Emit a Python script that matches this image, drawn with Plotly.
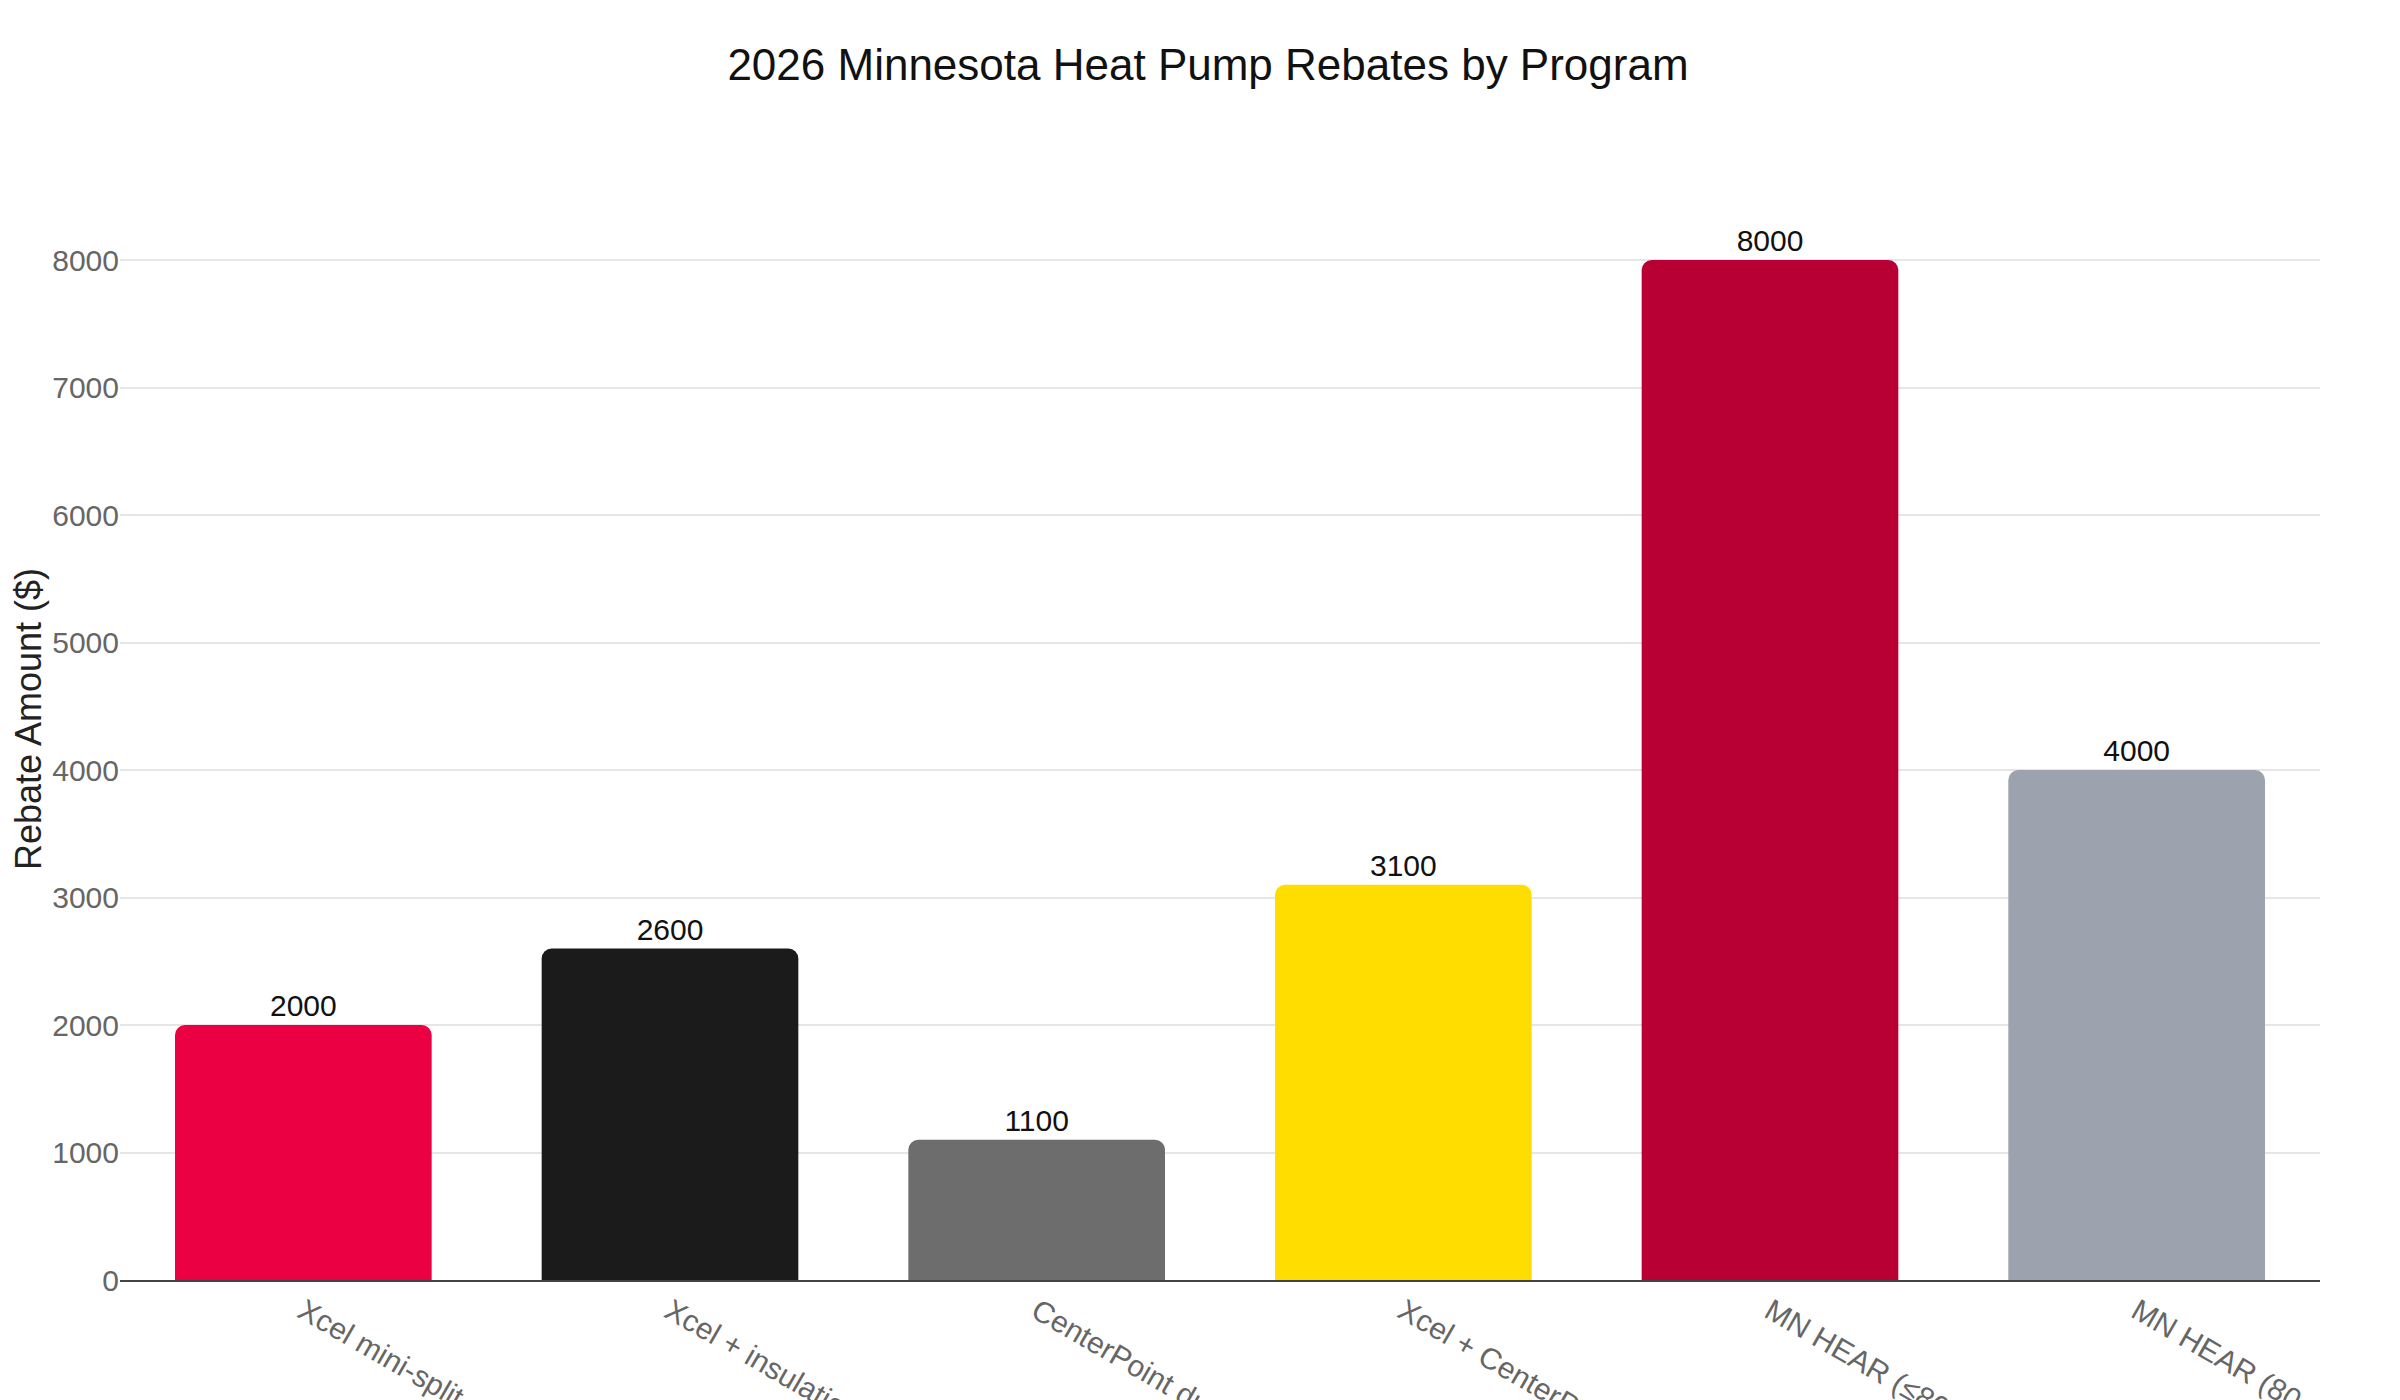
"""
2026 Minnesota heat pump rebates, one bar per program
"""
import plotly.graph_objects as go

# programs and rebate amounts ($)
programs = ["Xcel mini-split", "Xcel + insulation", "CenterPoint ducted",
            "Xcel + CenterPoint", "MN HEAR (≤80% AMI)", "MN HEAR (80-150% AMI)"]
rebates = [2000, 2600, 1100, 3100, 8000, 4000]
bar_colors = ["#EB0044", "#1B1B1B", "#6D6D6D", "#FFDD00", "#B90035", "#9CA3AF"]

font_family = "Arial, 'Liberation Sans', Helvetica, sans-serif"

fig = go.Figure(go.Bar(
    x=programs,
    y=rebates,
    marker=dict(color=bar_colors, line=dict(width=0)),
    text=rebates,
    textposition="outside",
    textfont=dict(size=30, color="#111111", family=font_family),
    cliponaxis=False,
))

fig.update_layout(
    width=2400, height=1400,
    paper_bgcolor="white", plot_bgcolor="white",
    font=dict(family=font_family),
    title=dict(text="2026 Minnesota Heat Pump Rebates by Program",
               x=0.5, xanchor="center", y=1 - 57 / 1400, yanchor="middle",
               font=dict(size=44, color="#111111")),
    margin=dict(l=112, r=88, t=150, b=128, autoexpand=False),
    bargap=0.3,
    barcornerradius=10,
    showlegend=False,
)

fig.update_xaxes(
    tickangle=30, automargin=False,
    tickfont=dict(size=30, color="#666666"),
    showline=True, linecolor="#444444", linewidth=2,
    showgrid=False, ticks="",
)

# range chosen so gridlines land where the reference puts them
fig.update_yaxes(
    range=[0, 8800], dtick=1000, automargin=False,
    title=dict(text="Rebate Amount ($)", font=dict(size=36, color="#222222"), standoff=11),
    tickfont=dict(size=30, color="#666666"),
    showgrid=True, gridcolor="#E6E6E6", gridwidth=2,
    zeroline=False, showline=False, ticks="",
)

fig.write_html("out.html")
